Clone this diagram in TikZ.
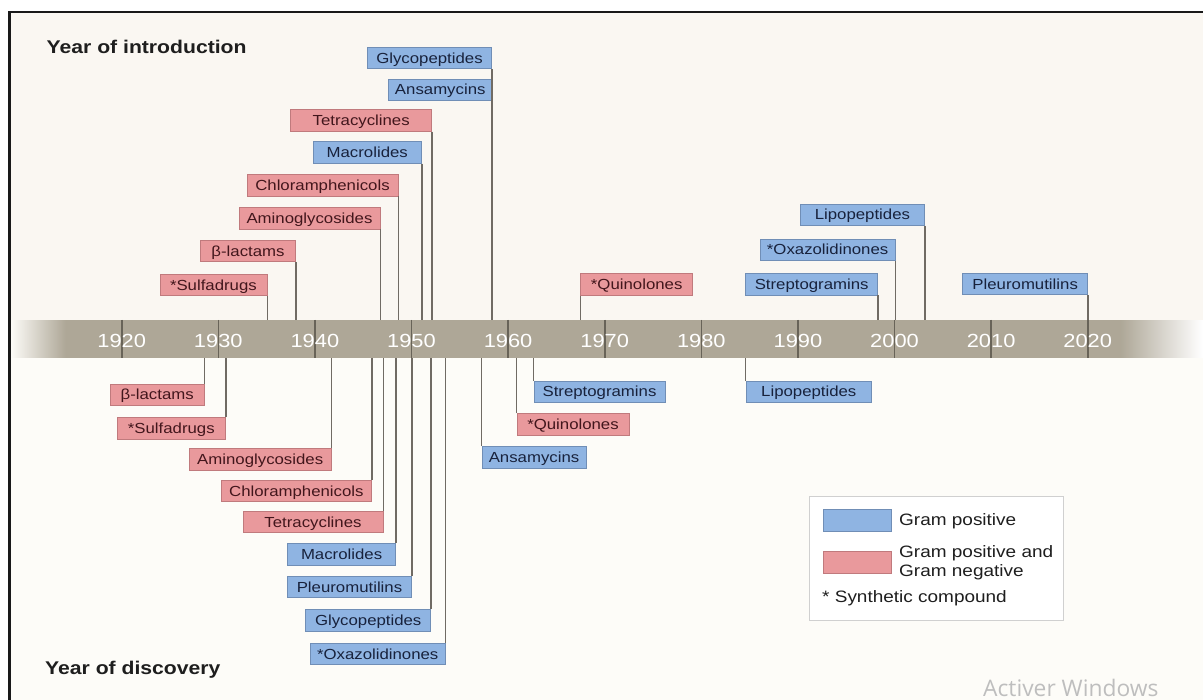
\documentclass[tikz,border=0pt]{standalone}
\usepackage{fontspec}
\setmainfont[FakeStretch=1.15]{Liberation Sans}
\newfontfamily\wmfont{Open Sans}
\definecolor{bluef}{RGB}{143,180,226}
\definecolor{blued}{RGB}{112,142,182}
\definecolor{bluet}{RGB}{24,34,60}
\definecolor{redf}{RGB}{233,153,156}
\definecolor{redd}{RGB}{192,122,125}
\definecolor{redt}{RGB}{66,22,28}
\definecolor{bandc}{RGB}{174,167,151}
\definecolor{tickc}{RGB}{104,99,88}
\definecolor{connc}{RGB}{112,107,100}
\definecolor{topbg}{RGB}{250,247,242}
\definecolor{botbg}{RGB}{253,252,248}
\definecolor{legc}{RGB}{208,208,208}
\definecolor{titc}{RGB}{30,30,30}
\tikzset{
  bx/.style={draw, line width=0.8pt, inner sep=0pt, minimum height=21.5pt, text height=12pt, text depth=1.6pt, font=\fontsize{14.6}{16}\selectfont},
  gp/.style={bx, fill=bluef, draw=blued, text=bluet},
  gn/.style={bx, fill=redf, draw=redd, text=redt},
  conn/.style={draw=connc, line width=1.6pt},
  yeartick/.style={draw=tickc, line width=1.6pt},
  yr/.style={text=white, inner sep=0pt, font=\fontsize{19}{20}\selectfont},
  ttl/.style={anchor=base west, inner sep=0pt, text=titc, font=\fontsize{18.4}{20}\selectfont\bfseries},
  legtext/.style={anchor=west, inner sep=0pt, text=titc, align=left, font=\fontsize{16.5}{19}\selectfont},
}
\begin{document}
\begin{tikzpicture}[x=1pt,y=-1pt]
\useasboundingbox (0,0) rectangle (1203,700);
\fill[white] (0,0) rectangle (1203,700);
% backgrounds
\fill[topbg] (9.5,12) rectangle (1203,320);
\fill[botbg] (9.5,358) rectangle (1203,700);
% frame
\draw[black!90, line width=2.4pt] (9.5,700) -- (9.5,11.8) -- (1203,11.8);
% band
\fill[bandc] (65,320) rectangle (1122,358);
\foreach \i in {0,...,54}{
  \pgfmathsetmacro{\p}{100*(\i+0.5)/55}
  \fill[bandc!\p!botbg] (10.7+\i,320) rectangle (11.8+\i,358);
}
\foreach \i in {0,...,81}{
  \pgfmathsetmacro{\p}{100-100*(\i+0.5)/82}
  \fill[bandc!\p!white] (1121+\i,320) rectangle (1122.1+\i,358);
}
\coordinate (bandtop) at (0,320);
\coordinate (bandbot) at (0,358);
% ticks and years
\foreach \yy in {1920,1930,...,2020}{
  \pgfmathsetmacro{\xx}{121.7+(\yy-1920)*9.66}
  \draw[yeartick] (\xx,320) -- (\xx,358);
  \node[yr] (y\yy) at (\xx,340.7) {\yy};
}
% titles
\node[ttl] (tintro) at (46.5,54) {Year of introduction};
\node[ttl] (tdisc) at (45,674) {Year of discovery};
% top boxes (year of introduction)
\node[gp, minimum width=124pt] (glyT) at (429.5,58) {Glycopeptides};
\node[gp, minimum width=103pt] (ansT) at (440.25,89.8) {Ansamycins};
\node[gn, minimum width=141pt] (tetT) at (361.2,120.5) {Tetracyclines};
\node[gp, minimum width=108.5pt] (macT) at (367.25,152.5) {Macrolides};
\node[gn, minimum width=151pt] (chlT) at (322.5,185.2) {Chloramphenicols};
\node[gn, minimum width=141pt] (amiT) at (309.5,218.2) {Aminoglycosides};
\node[gn, minimum width=95pt] (betT) at (248,251) {β-lactams};
\node[gn, minimum width=107pt] (sulT) at (213.4,285) {*Sulfadrugs};
\node[gn, minimum width=112pt] (quiT) at (636.7,284.5) {*Quinolones};
\node[gp, minimum width=132pt] (strT) at (811.7,284.3) {Streptogramins};
\node[gp, minimum width=135pt] (oxaT) at (827.6,249.7) {*Oxazolidinones};
\node[gp, minimum width=124pt] (lipT) at (862.4,214.7) {Lipopeptides};
\node[gp, minimum width=125pt] (pleT) at (1025.2,284) {Pleuromutilins};
% top connectors
\foreach \n in {glyT,ansT,tetT,macT,chlT,amiT,betT,sulT,strT,oxaT,lipT,pleT}{
  \draw[conn] (\n.south east) -- (\n.south east |- bandtop);
}
\draw[conn] (quiT.south west) -- (quiT.south west |- bandtop);
% bottom boxes (year of discovery)
\node[gn, minimum width=94pt] (betB) at (157.2,394.7) {β-lactams};
\node[gn, minimum width=108.5pt] (sulB) at (171.3,428.3) {*Sulfadrugs};
\node[gn, minimum width=142pt] (amiB) at (260.2,459.2) {Aminoglycosides};
\node[gn, minimum width=150.5pt] (chlB) at (296.4,491) {Chloramphenicols};
\node[gn, minimum width=140pt] (tetB) at (313,522) {Tetracyclines};
\node[gp, minimum width=108.5pt] (macB) at (341.6,554.3) {Macrolides};
\node[gp, minimum width=124.5pt] (pleB) at (349.5,587) {Pleuromutilins};
\node[gp, minimum width=125pt] (glyB) at (368.2,620.2) {Glycopeptides};
\node[gp, minimum width=135pt] (oxaB) at (377.7,653.8) {*Oxazolidinones};
\node[gp, minimum width=104pt] (ansB) at (534,457.2) {Ansamycins};
\node[gn, minimum width=112pt] (quiB) at (573,424.2) {*Quinolones};
\node[gp, minimum width=131pt] (strB) at (599.5,391.7) {Streptogramins};
\node[gp, minimum width=125.5pt] (lipB) at (808.8,391.7) {Lipopeptides};
% bottom connectors
\foreach \n in {betB,sulB,amiB,chlB,tetB,macB,pleB,glyB,oxaB}{
  \draw[conn] (\n.north east) -- (\n.north east |- bandbot);
}
\foreach \n in {ansB,quiB,strB,lipB}{
  \draw[conn] (\n.north west) -- (\n.north west |- bandbot);
}
% legend
\node[draw=legc, fill=white, line width=0.8pt, minimum width=254pt, minimum height=124pt, inner sep=0pt] (legend) at (936.3,558.7) {};
\node[gp, minimum width=68.5pt, minimum height=22pt] (swb) at (857.5,520) {};
\node[gn, minimum width=68.5pt, minimum height=22pt] (swr) at (857.5,562.5) {};
\node[legtext] (lt1) at (899,521.5) {Gram positive};
\node[legtext] (lt2) at (899,562.5) {Gram positive and\\Gram negative};
\node[legtext] (lt3) at (822,598.5) {* Synthetic compound};
% watermark
\node[anchor=base west, inner sep=0pt, text={rgb,255:red,190;green,190;blue,190}, font=\wmfont\fontsize{22.8}{24}\selectfont] (wm) at (983,696.7) {Activer Windows};
\end{tikzpicture}
\end{document}
